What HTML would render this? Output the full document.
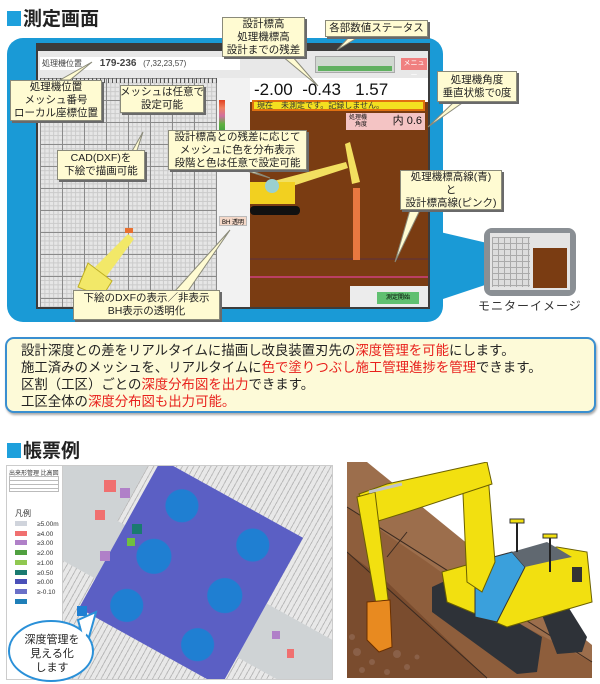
<!DOCTYPE html>
<html><head><meta charset="utf-8">
<style>
*{margin:0;padding:0;box-sizing:border-box}
html,body{width:600px;height:684px;overflow:hidden}
body{background:#fff;position:relative;font-family:"Liberation Sans","Noto Sans CJK JP",sans-serif;}
.a{position:absolute}
.h{font-size:19px;font-weight:bold;color:#222;letter-spacing:0}
.h i{display:inline-block;width:14px;height:15px;background:#1ea0dc;margin-right:2px;vertical-align:-1px}
.c{position:absolute;background:#fffbd2;border:1px solid #8a8a7a;box-shadow:2px 2px 0 #6a6a6a;font-size:10.5px;line-height:13px;text-align:center;color:#222;display:flex;align-items:center;justify-content:center;flex-direction:column;white-space:nowrap}
.red{color:#e8201c}
</style></head><body>

<div class="a h" style="left:7px;top:4px"><i></i>測定画面</div>

<div class="a" style="left:7px;top:38px;width:436px;height:284px;background:#1a9ad6;border-radius:16px"></div>
<svg class="a" style="left:0;top:0" width="600" height="330">
<polygon points="440,232 500,246 500,280 440,300" fill="#1a9ad6"/>
</svg>

<div class="a" style="left:36px;top:43px;width:394px;height:266px;background:#3c3c3c"></div>
<div class="a" style="left:38px;top:51px;width:390px;height:256px;background:#e8e8e8"></div>
<div class="a" style="left:40px;top:57px;width:200px;height:13px;background:#fff;font-size:8px;color:#444;padding-left:2px;line-height:13px">処理機位置 &nbsp; &nbsp; &nbsp; &nbsp;<b style="font-size:10px">179-236</b> &nbsp; (7,32,23,57)</div>
<div class="a" style="left:40px;top:78px;width:177px;height:229px;background-color:#e6e6e6;background-image:linear-gradient(#8a8a8a 1px,transparent 1px),linear-gradient(90deg,#8a8a8a 1px,transparent 1px),linear-gradient(#cacaca 1px,transparent 1px),linear-gradient(90deg,#cacaca 1px,transparent 1px);background-size:22px 22px,22px 22px,4.4px 4.4px,4.4px 4.4px"></div>
<div class="a" style="left:40px;top:78px;width:177px;height:5px;background:repeating-linear-gradient(90deg,#555 0 1px,transparent 1px 4px)"></div>
<div class="a" style="left:217px;top:78px;width:33px;height:229px;background:#f2f2f2"></div>
<div class="a" style="left:219px;top:100px;width:6px;height:40px;background:linear-gradient(#e04020,#f08060,#d070a0,#60b040,#40a040,#2050c0)"></div>
<div class="a" style="left:219px;top:216px;width:28px;height:10px;background:#f4d8c8;border:1px solid #bbb;font-size:6px;text-align:center">BH 透明</div>
<div class="a" style="left:250px;top:78px;width:178px;height:24px;background:#fff"></div>
<div class="a" style="left:250px;top:102px;width:178px;height:205px;background:#7a3c12"></div>
<div class="a" style="left:252px;top:100px;width:173px;height:11px;background:#f3e020;border:2px solid #e07010;font-size:8px;line-height:7px;color:#333;padding-left:3px">現在　未測定です。記録しません。</div>
<div class="a" style="left:346px;top:113px;width:79px;height:17px;background:#f4c4c4;font-size:11px;line-height:17px;text-align:right;padding-right:3px;color:#111"><span style="font-size:6px;float:left;margin-left:3px;line-height:7px;margin-top:2px">処理機<br>角度</span>内 0.6</div>
<div class="a" style="left:254px;top:79px;width:174px;height:21px;font-size:17px;line-height:21px;color:#111;white-space:nowrap">-2.00 &nbsp;-0.43 &nbsp;&nbsp;1.57</div>
<div class="a" style="left:315px;top:56px;width:80px;height:17px;background:#d0d8d0;border:1px solid #aaa"></div>
<div class="a" style="left:318px;top:66px;width:74px;height:5px;background:#60b060"></div>
<div class="a" style="left:401px;top:58px;width:26px;height:12px;background:#f08080;font-size:7px;color:#fff;text-align:center;line-height:12px">メニュー</div>
<svg class="a" style="left:250px;top:102px" width="180" height="206">
<line x1="0" y1="157" x2="178" y2="157" stroke="#5a3040" stroke-width="1"/>
<line x1="0" y1="175" x2="178" y2="175" stroke="#d04080" stroke-width="1.5"/>
<polygon points="95,42 100,40 110,80 102,82" fill="#f2e060"/>
<polygon points="20,80 96,60 98,66 24,90" fill="#f2e060"/>
<rect x="103" y="86" width="7" height="72" fill="#e87840"/>
<rect x="0" y="80" width="45" height="22" fill="#f2d020"/>
<rect x="0" y="104" width="50" height="9" rx="4" fill="#111"/>
<circle cx="22" cy="84" r="7" fill="#9ad0d0"/>
</svg>
<svg class="a" style="left:40px;top:91px" width="180" height="217">
<polygon points="55,176 88,143 94,148 66,186" fill="#f2e868"/>
<path d="M48,172 L72,190 L62,206 L38,196 Z" fill="#f2e868" stroke="#c0b020"/>
<rect x="85" y="137" width="8" height="5" fill="#e87030"/>
</svg>
<div class="a" style="left:350px;top:286px;width:78px;height:21px;background:#ececec"></div>
<div class="a" style="left:377px;top:292px;width:42px;height:12px;background:#60c070;font-size:6px;text-align:center;line-height:12px">測定開始</div>

<svg class="a" style="left:0;top:0" width="600" height="330">
<g fill="#fffbd2" stroke="#8a8a7a">
<polygon points="282,56 292,56 318,86"/>
<polygon points="350,36 360,36 337,50"/>
<polygon points="60,80 70,80 92,62"/>
<polygon points="455,101 465,101 428,127"/>
<polygon points="120,172 130,172 143,132"/>
<polygon points="230,166 240,166 270,178"/>
<polygon points="410,210 420,210 395,262"/>
<polygon points="175,291 188,291 230,230"/>
</g>
</svg>
<div class="c" style="left:222px;top:17px;width:83px;height:40px">設計標高<br>処理機標高<br>設計までの残差</div>
<div class="c" style="left:325px;top:20px;width:103px;height:17px">各部数値ステータス</div>
<div class="c" style="left:10px;top:80px;width:92px;height:41px">処理機位置<br>メッシュ番号<br>ローカル座標位置</div>
<div class="c" style="left:120px;top:85px;width:84px;height:28px">メッシュは任意で<br>設定可能</div>
<div class="c" style="left:437px;top:71px;width:80px;height:31px">処理機角度<br>垂直状態で0度</div>
<div class="c" style="left:168px;top:130px;width:139px;height:40px">設計標高との残差に応じて<br>メッシュに色を分布表示<br>段階と色は任意で設定可能</div>
<div class="c" style="left:57px;top:150px;width:88px;height:30px">CAD(DXF)を<br>下絵で描画可能</div>
<div class="c" style="left:400px;top:170px;width:102px;height:40px">処理機標高線(青)<br>と<br>設計標高線(ピンク)</div>
<div class="c" style="left:73px;top:290px;width:147px;height:30px">下絵のDXFの表示／非表示<br>BH表示の透明化</div>

<div class="a" style="left:484px;top:228px;width:92px;height:68px;background:#8a8f94;border-radius:8px"></div>
<div class="a" style="left:490px;top:233px;width:80px;height:57px;background:#e4e4e4"></div>
<div class="a" style="left:492px;top:237px;width:38px;height:50px;background-color:#ddd;background-image:linear-gradient(#aaa 1px,transparent 1px),linear-gradient(90deg,#aaa 1px,transparent 1px);background-size:6px 6px"></div>
<div class="a" style="left:533px;top:248px;width:34px;height:40px;background:#7a3c12"></div>
<div class="a" style="left:478px;top:297px;font-size:12px;color:#333;letter-spacing:1px">モニターイメージ</div>

<div class="a" style="left:5px;top:337px;width:591px;height:76px;background:#fdfad8;border:2px solid #3a8fd0;border-radius:9px;box-shadow:1px 2px 2px #aaa;padding:3px 0 0 14px;font-size:13.4px;line-height:17px;color:#222;white-space:nowrap;overflow:hidden">
設計深度との差をリアルタイムに描画し改良装置刃先の<span class="red">深度管理を可能</span>にします。<br>
施工済みのメッシュを、リアルタイムに<span class="red">色で塗りつぶし施工管理進捗を管理</span>できます。<br>
区割（工区）ごとの<span class="red">深度分布図を出力</span>できます。<br>
工区全体の<span class="red">深度分布図も出力可能。</span></div>

<div class="a h" style="left:7px;top:436px"><i></i>帳票例</div>

<div class="a" style="left:6px;top:465px;width:327px;height:215px;background:#cfd3d5;border:1px solid #ccc;overflow:hidden">
 <div class="a" style="left:140px;top:-60px;width:300px;height:200px;background:#e8e8e8;transform:rotate(29deg);background-image:repeating-linear-gradient(90deg,#bbb 0 1px,transparent 1px 5px)"></div>
 <div class="a" style="left:-20px;top:150px;width:300px;height:200px;background:#e8e8e8;transform:rotate(29deg);background-image:repeating-linear-gradient(90deg,#bbb 0 1px,transparent 1px 5px)"></div>
 <div class="a" style="left:103px;top:22px;width:162px;height:170px;background:#5b5fc4;transform:rotate(29deg);background-image:radial-gradient(circle at 25% 18%,#1f7fd2 16px,transparent 17px),radial-gradient(circle at 75% 18%,#1f7fd2 16px,transparent 17px),radial-gradient(circle at 25% 52%,#1f7fd2 17px,transparent 18px),radial-gradient(circle at 75% 52%,#1f7fd2 17px,transparent 18px),radial-gradient(circle at 25% 85%,#1f7fd2 16px,transparent 17px),radial-gradient(circle at 75% 85%,#1f7fd2 16px,transparent 17px)"></div>
 <div class="a" style="left:97px;top:14px;width:12px;height:12px;background:#f07070"></div>
 <div class="a" style="left:113px;top:22px;width:10px;height:10px;background:#b080c8"></div>
 <div class="a" style="left:88px;top:44px;width:10px;height:10px;background:#f07070"></div>
 <div class="a" style="left:125px;top:58px;width:10px;height:10px;background:#1a7a70"></div>
 <div class="a" style="left:120px;top:72px;width:8px;height:8px;background:#70c040"></div>
 <div class="a" style="left:93px;top:85px;width:10px;height:10px;background:#b080c8"></div>
 <div class="a" style="left:70px;top:140px;width:10px;height:10px;background:#1f7fd2"></div>
 <div class="a" style="left:265px;top:165px;width:8px;height:8px;background:#b080c8"></div>
 <div class="a" style="left:280px;top:183px;width:7px;height:9px;background:#f07070"></div>
 <div class="a" style="left:0;top:0;width:56px;height:215px;background:#fff;border-right:1px solid #ccc"></div>
 <div class="a" style="left:2px;top:2px;font-size:6px;color:#333">出来形管理 比高図</div>
 <div class="a" style="left:2px;top:10px;width:50px;height:16px;border:1px solid #bbb;background:repeating-linear-gradient(#fff 0 3px,#bbb 3px 4px)"></div>
 <div class="a" style="left:8px;top:42px;font-size:8px;color:#333">凡例</div>
 <div class="a" style="left:8px;top:54px;font-size:6.5px;line-height:9.7px;color:#333">
  <div><span style="display:inline-block;width:12px;height:5px;background:#d0d4dc;margin-right:10px"></span>≥5.00m</div>
  <div><span style="display:inline-block;width:12px;height:5px;background:#f07070;margin-right:10px"></span>≥4.00</div>
  <div><span style="display:inline-block;width:12px;height:5px;background:#b080c8;margin-right:10px"></span>≥3.00</div>
  <div><span style="display:inline-block;width:12px;height:5px;background:#50a040;margin-right:10px"></span>≥2.00</div>
  <div><span style="display:inline-block;width:12px;height:5px;background:#90c850;margin-right:10px"></span>≥1.00</div>
  <div><span style="display:inline-block;width:12px;height:5px;background:#1a7a70;margin-right:10px"></span>≥0.50</div>
  <div><span style="display:inline-block;width:12px;height:5px;background:#4a50b8;margin-right:10px"></span>≥0.00</div>
  <div><span style="display:inline-block;width:12px;height:5px;background:#6a70c8;margin-right:10px"></span>≥-0.10</div>
  <div><span style="display:inline-block;width:12px;height:5px;background:#1f7fb8"></span></div>
 </div>
</div>
<svg class="a" style="left:0;top:460px" width="120" height="224">
<polygon points="78,160 96,152 86,188" fill="#fff" stroke="#2a90d8" stroke-width="2"/>
<ellipse cx="51" cy="191" rx="42" ry="30" fill="#fff" stroke="#2a90d8" stroke-width="2"/>
<polygon points="80,162 93,156 84,180" fill="#fff"/>
</svg>
<div class="a" style="left:12px;top:633px;width:80px;text-align:center;font-size:11px;line-height:14px;color:#222">深度管理を<br>見える化<br>します</div>

<svg class="a" style="left:347px;top:462px" width="251" height="218">
<rect width="251" height="218" fill="#fff"/>
<polygon points="0,0 20,0 245,183 245,216 0,216" fill="#9c6e4c"/>
<polygon points="0,45 80,100 150,150 245,200 245,216 0,216" fill="#8e5e3c"/>
<polygon points="0,90 40,120 140,216 0,216" fill="#7a4c2e"/>
<g stroke="#3a2a20" stroke-width="1" fill="none"><line x1="0" y1="45" x2="245" y2="200"/><line x1="0" y1="90" x2="140" y2="216"/><line x1="60" y1="70" x2="40" y2="95"/><line x1="130" y1="110" x2="110" y2="140"/></g>
<polygon points="85,125 100,118 195,175 190,210 170,212 85,150" fill="#2e3238"/>
<polygon points="190,140 215,135 240,175 235,190 210,192" fill="#2e3238"/>
<polygon points="95,110 130,100 210,85 240,90 245,140 160,165 100,140" fill="#f2e010" stroke="#6b6000"/>
<polygon points="128,100 165,90 178,105 150,160 128,155" fill="#3aa0dc" stroke="#333"/>
<polygon points="165,90 200,80 225,95 200,100 178,105" fill="#606870"/>
<rect x="225" y="105" width="10" height="15" fill="#333"/>
<line x1="170" y1="60" x2="170" y2="90" stroke="#222" stroke-width="2"/><rect x="163" y="57" width="14" height="4" fill="#f2e010" stroke="#333"/>
<line x1="203" y1="76" x2="203" y2="110" stroke="#222" stroke-width="2"/><rect x="196" y="72" width="14" height="4" fill="#f2e010" stroke="#333"/>
<polygon points="115,10 140,0 148,100 135,130 120,120" fill="#f2e010" stroke="#6b6000"/>
<polygon points="12,32 40,22 140,0 145,22 60,50 28,60" fill="#f2e010" stroke="#6b6000"/>
<polygon points="10,35 28,30 42,145 30,148" fill="#f2e010" stroke="#6b6000"/>
<line x1="22" y1="30" x2="55" y2="22" stroke="#c0c4c8" stroke-width="3"/>
<polygon points="20,140 43,138 45,185 32,190 20,178" fill="#e88a20" stroke="#6b3000"/>
<g fill="#8a6048"><circle cx="10" cy="190" r="4"/><circle cx="25" cy="200" r="3"/><circle cx="50" cy="192" r="4"/><circle cx="15" cy="208" r="3"/><circle cx="60" cy="205" r="3"/><circle cx="40" cy="210" r="3"/><circle cx="70" cy="195" r="2.5"/><circle cx="5" cy="175" r="3"/></g>
</svg>
</body></html>
